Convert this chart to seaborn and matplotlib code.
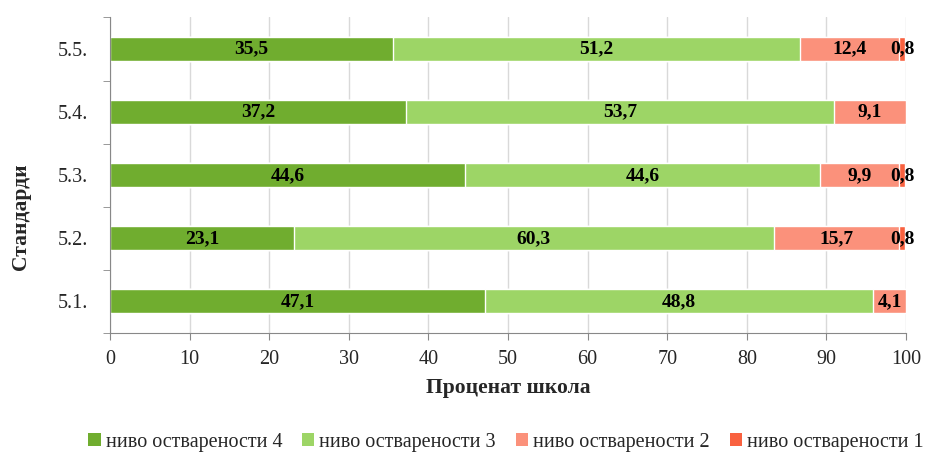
import numpy as np
import pandas as pd
import matplotlib
matplotlib.use("Agg")
import matplotlib.pyplot as plt
import seaborn as sns
from matplotlib.patches import Patch

sns.set_style("white")
plt.rcParams['font.family'] = ['Liberation Serif', 'DejaVu Serif']

categories = ["5.5.", "5.4.", "5.3.", "5.2.", "5.1."]
level4 = [35.5, 37.2, 44.6, 23.1, 47.1]
level3 = [51.2, 53.7, 44.6, 60.3, 48.8]
level2 = [12.4, 9.1, 9.9, 15.7, 4.1]
level1 = [0.8, 0.0, 0.8, 0.8, 0.0]
series_names = ["ниво остварености 4", "ниво остварености 3", "ниво остварености 2", "ниво остварености 1"]
colors = ["#70ad2f", "#9dd566", "#fb917b", "#f9613f"]
xticks = [0, 10, 20, 30, 40, 50, 60, 70, 80, 90, 100]

series = [np.array(level4), np.array(level3), np.array(level2), np.array(level1)]
cum = np.cumsum(np.vstack(series), axis=0)

fig = plt.figure(figsize=(9.46, 4.69), dpi=100)
ax = fig.add_axes([110/946, 1-333/469, 796/946, 315.5/469])

# draw cumulative bars from longest to shortest so they stack visually
for i in range(3, -1, -1):
    df = pd.DataFrame({"cat": categories, "val": cum[i]})
    sns.barplot(data=df, x="val", y="cat", order=categories, color=colors[i],
                width=0.38, saturation=1, ax=ax, zorder=2)

# labels
for i in range(4):
    starts = cum[i] - series[i]
    for j, v in enumerate(series[i]):
        if v > 0:
            ax.text(starts[j] + v/2, j, f"{v:.1f}".replace(".", ","),
                    ha="center", va="center", fontsize=14, fontweight="bold",
                    color="black", zorder=5)

ax.set_xlim(0, 100)
ax.set_ylim(4.5, -0.5)
ax.set_xticks(xticks)
ax.set_xticklabels([str(t) for t in xticks], fontsize=14.5)
ax.xaxis.grid(True, color="#d9d9d9", linewidth=1)
ax.set_axisbelow(True)
ax.tick_params(axis="x", length=5, color="#888888", pad=7, direction="out", bottom=True)
ax.tick_params(axis="y", which="major", length=0, pad=16, labelsize=14.5)
ax.set_yticks(np.arange(-0.5, 5, 1), minor=True)
ax.tick_params(axis="y", which="minor", length=5, color="#888888", left=True)
for s in ["top", "right"]:
    ax.spines[s].set_visible(False)
for s in ["left", "bottom"]:
    ax.spines[s].set_color("#888888")
ax.set_xlabel("Проценат школа", fontsize=15.5, fontweight="bold", labelpad=7)
ax.set_ylabel("Стандарди", fontsize=15.5, fontweight="bold")
ax.yaxis.set_label_coords(-0.099, 0.37)

handles = [Patch(facecolor=c, edgecolor="none") for c in colors]
fig.legend(handles, series_names, loc="center", bbox_to_anchor=(0.535, 1-442/469),
           ncol=4, frameon=False, fontsize=14.5, handlelength=0.6, handleheight=0.6,
           handletextpad=0.25, columnspacing=1.0)

fig.savefig("out.png", dpi=100)
